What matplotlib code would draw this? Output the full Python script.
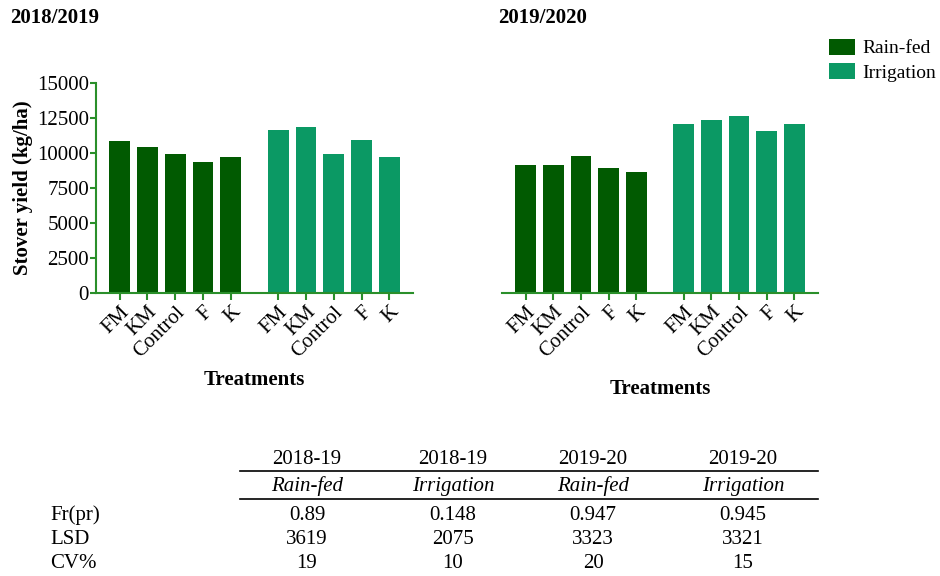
import matplotlib.pyplot as plt
import matplotlib
import numpy as np

matplotlib.rcParams['font.family'] = ['Liberation Serif', 'DejaVu Serif']

treatments = ["FM", "KM", "Control", "F", "K"]
rainfed_1819 = [10870, 10420, 9940, 9390, 9680]
irrig_1819 = [11610, 11830, 9950, 10900, 9690]
rainfed_1920 = [9110, 9110, 9800, 8900, 8660]
irrig_1920 = [12050, 12350, 12640, 11550, 12050]

tbl_years = ["2018-19", "2018-19", "2019-20", "2019-20"]
tbl_systems = ["Rain-fed", "Irrigation", "Rain-fed", "Irrigation"]
row_names = ["Fr(pr)", "LSD", "CV%"]
tbl_values = [["0.89", "0.148", "0.947", "0.945"],
              ["3619", "2075", "3323", "3321"],
              ["19", "10", "20", "15"]]

c_rain = "#015A01"
c_irr = "#0B9964"
c_axis = "#2A8F2A"
fs = 15

fig = plt.figure(figsize=(9.4, 5.76), dpi=100)
W, H = 940, 576


def px_axes(x0, y0, x1, y1):
    return fig.add_axes([x0 / W, 1 - y1 / H, (x1 - x0) / W, (y1 - y0) / H])


ax1 = px_axes(96, 83, 413, 293)
ax2 = px_axes(502, 83, 818, 293)

x_rain = np.arange(5)
x_irr = x_rain + 5.7
xticks = np.concatenate([x_rain, x_irr])

for ax, rain, irr in [(ax1, rainfed_1819, irrig_1819), (ax2, rainfed_1920, irrig_1920)]:
    ax.bar(x_rain, rain, width=0.75, color=c_rain, label="Rain-fed")
    ax.bar(x_irr, irr, width=0.75, color=c_irr, label="Irrigation")
    ax.set_xlim(-0.85, 10.55)
    ax.set_ylim(0, 15000)
    ax.set_xticks(xticks)
    ax.set_xticklabels(treatments * 2, rotation=45, ha="right",
                       rotation_mode="anchor", fontsize=fs)
    for s in ["top", "right"]:
        ax.spines[s].set_visible(False)
    for s in ["left", "bottom"]:
        ax.spines[s].set_color(c_axis)
        ax.spines[s].set_linewidth(1.5)
    ax.tick_params(axis="x", colors=c_axis, labelcolor="black", length=5, width=1.5, pad=2)
    ax.tick_params(axis="y", colors=c_axis, labelcolor="black", length=4, width=1.5,
                   labelsize=fs, pad=1)

ax1.set_yticks(np.arange(0, 15001, 2500))
ax1.set_ylabel("Stover yield (kg/ha)", fontsize=fs, fontweight="bold", labelpad=3)
ax2.spines["left"].set_visible(False)
ax2.set_yticks([])

fig.text(10 / W, 1 - 18 / H, "2018/2019", fontsize=fs, fontweight="bold", va="center")
fig.text(498 / W, 1 - 18 / H, "2019/2020", fontsize=fs, fontweight="bold", va="center")
fig.text(254 / W, 1 - 380 / H, "Treatments", fontsize=fs, fontweight="bold",
         ha="center", va="center")
fig.text(660 / W, 1 - 389 / H, "Treatments", fontsize=fs, fontweight="bold",
         ha="center", va="center")

handles, labels = ax1.get_legend_handles_labels()
fig.legend(handles, labels, loc="upper left", bbox_to_anchor=(829 / W, 1 - 39 / H),
           frameon=False, fontsize=14, handlelength=1.35, handleheight=0.85,
           handletextpad=0.35, labelspacing=0.3, borderaxespad=0, borderpad=0)

# statistics table
col_x = [307, 453, 593, 743]
for cx, yr, sy in zip(col_x, tbl_years, tbl_systems):
    fig.text(cx / W, 1 - 459 / H, yr, fontsize=fs, ha="center", va="center")
    fig.text(cx / W, 1 - 486 / H, sy, fontsize=fs, ha="center", va="center", style="italic")
for ly in [471, 499]:
    fig.add_artist(plt.Line2D([240 / W, 818 / W], [1 - ly / H, 1 - ly / H],
                              color="black", linewidth=1.2))
row_y = [515, 539, 563]
for ry, name, vals in zip(row_y, row_names, tbl_values):
    fig.text(50 / W, 1 - ry / H, name, fontsize=fs, ha="left", va="center")
    for cx, v in zip(col_x, vals):
        fig.text(cx / W, 1 - ry / H, v, fontsize=fs, ha="center", va="center")

plt.savefig("out.png", dpi=100)
